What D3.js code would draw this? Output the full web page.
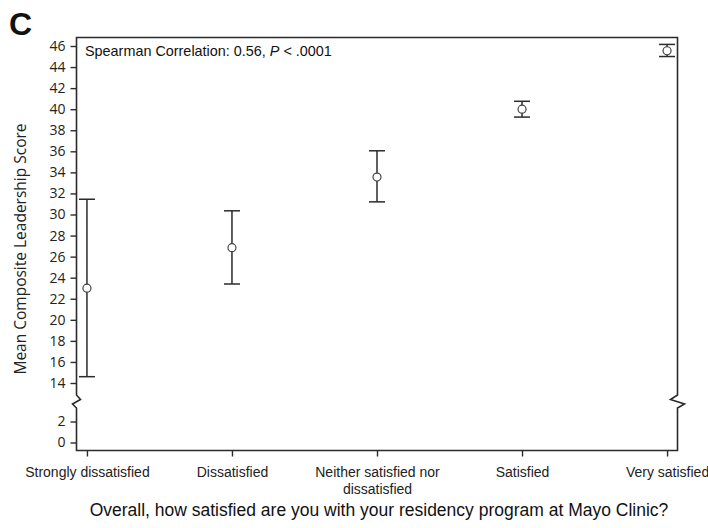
<!DOCTYPE html>
<html>

<head>
    <meta charset="UTF-8">
    <title>Leadership score by residency satisfaction</title>
    <script src="https://d3js.org/d3.v7.min.js"></script>
    <style>
        body { margin: 0; background: #fff; }
    </style>
</head>

<body>
    <div class="canvas"></div>

    <script>
        // data
        const categories = ["Strongly dissatisfied", "Dissatisfied", "Neither satisfied nor dissatisfied", "Satisfied", "Very satisfied"];
        const means = [23.0, 26.85, 33.55, 40.0, 45.55];
        const lowerCI = [14.6, 23.4, 31.2, 39.25, 45.0];
        const upperCI = [31.45, 30.35, 36.05, 40.75, 46.15];
        const upperTicks = [14, 16, 18, 20, 22, 24, 26, 28, 30, 32, 34, 36, 38, 40, 42, 44, 46];
        const lowerTicks = [0, 2];

        const data = categories.map((c, i) => ({ name: c, mean: means[i], lo: lowerCI[i], hi: upperCI[i] }));

        // dimensions
        const width = 708;
        const height = 528;
        const plotLeft = 76.5, plotRight = 677.5, plotTop = 37.5, plotBottom = 450.5;
        const ink = "#2b2b2b";

        const svg = d3.select(".canvas")
            .append("svg")
            .attr("width", width)
            .attr("height", height);

        svg.append("rect").attr("width", width).attr("height", height).attr("fill", "#fff");

        // scales: broken y axis, two segments with the same unit size
        const x = d3.scalePoint()
            .domain(categories)
            .range([plotLeft, plotRight])
            .padding(0.072);

        const yUp = d3.scaleLinear()
            .domain([14, 46])
            .range([383, 46]);

        const yLow = d3.scaleLinear()
            .domain([0, 2])
            .range([442.5, 421.5]);

        // frame: top, right, bottom, left with zigzag breaks
        const zig = (x0, amp) => `L${x0},395 L${x0 - amp},399.5 L${x0 + amp},404 L${x0},408`;
        svg.append("path")
            .attr("d", `M${plotLeft},${plotTop} L${plotRight},${plotTop} ${zig(plotRight, 7)} L${plotRight},${plotBottom} L${plotLeft},${plotBottom} L${plotLeft},408 L${plotLeft - 4},404 L${plotLeft + 4},399.5 L${plotLeft},395 Z`)
            .attr("fill", "none")
            .attr("stroke", ink)
            .attr("stroke-width", 1.6);

        // y axes (upper and lower pieces)
        const styleAxis = g => {
            g.select(".domain").remove();
            g.selectAll(".tick line").attr("stroke", ink).attr("stroke-width", 1.4);
            g.selectAll(".tick text")
                .attr("fill", "#222")
                .style("font-family", "'Open Sans', 'DejaVu Sans', sans-serif")
                .style("font-size", "14px");
        };

        svg.append("g")
            .attr("transform", `translate(${plotLeft}, 0)`)
            .call(d3.axisLeft(yUp).tickValues(upperTicks).tickFormat(d3.format("d")).tickSize(6).tickPadding(5))
            .call(styleAxis);

        svg.append("g")
            .attr("transform", `translate(${plotLeft}, 0)`)
            .call(d3.axisLeft(yLow).tickValues(lowerTicks).tickFormat(d3.format("d")).tickSize(6).tickPadding(5))
            .call(styleAxis);

        // x axis
        const xAxisGroup = svg.append("g")
            .attr("transform", `translate(0, ${plotBottom})`)
            .call(d3.axisBottom(x).tickSize(6).tickPadding(11));
        xAxisGroup.select(".domain").remove();
        xAxisGroup.selectAll(".tick line").attr("stroke", ink).attr("stroke-width", 1.4);
        xAxisGroup.selectAll(".tick text")
            .attr("fill", "#222")
            .style("font-family", "'Liberation Sans', Arial, sans-serif")
            .style("font-size", "14px")
            .each(function (d) {
                // wrap long labels into two lines
                if (d.length <= 22) return;
                const words = d.split(" ");
                const el = d3.select(this);
                el.text(null);
                el.append("tspan").attr("x", 0).attr("dy", "0.71em").text(words.slice(0, 3).join(" "));
                el.append("tspan").attr("x", 0).attr("dy", "1.2em").text(words.slice(3).join(" "));
                el.attr("dy", null);
            });

        // error bars
        const capW = 8;
        const bars = svg.append("g").attr("stroke", ink).attr("stroke-width", 1.5).attr("fill", "none");

        bars.selectAll("line.whisker")
            .data(data)
            .join("line")
            .attr("class", "whisker")
            .attr("x1", d => x(d.name))
            .attr("x2", d => x(d.name))
            .attr("y1", d => yUp(d.lo))
            .attr("y2", d => yUp(d.hi));

        bars.selectAll("line.capHi")
            .data(data)
            .join("line")
            .attr("class", "capHi")
            .attr("x1", d => x(d.name) - capW)
            .attr("x2", d => x(d.name) + capW)
            .attr("y1", d => yUp(d.hi))
            .attr("y2", d => yUp(d.hi));

        bars.selectAll("line.capLo")
            .data(data)
            .join("line")
            .attr("class", "capLo")
            .attr("x1", d => x(d.name) - capW)
            .attr("x2", d => x(d.name) + capW)
            .attr("y1", d => yUp(d.lo))
            .attr("y2", d => yUp(d.lo));

        // mean markers
        svg.append("g")
            .selectAll("circle")
            .data(data)
            .join("circle")
            .attr("cx", d => x(d.name))
            .attr("cy", d => yUp(d.mean))
            .attr("r", 4)
            .attr("fill", "#fff")
            .attr("stroke", "#444")
            .attr("stroke-width", 1.2);

        // texts
        svg.append("text")
            .attr("x", 9)
            .attr("y", 35)
            .style("font-family", "'Liberation Sans', Arial, sans-serif")
            .style("font-size", "32px")
            .style("font-weight", "bold")
            .attr("fill", "#111")
            .text("C");

        const note = svg.append("text")
            .attr("x", 85)
            .attr("y", 56)
            .attr("fill", "#111")
            .style("font-family", "'Liberation Sans', Arial, sans-serif")
            .style("font-size", "14.4px");
        note.append("tspan").text("Spearman Correlation: 0.56, ");
        note.append("tspan").style("font-style", "italic").text("P");
        note.append("tspan").text(" < .0001");

        svg.append("text")
            .attr("transform", `translate(26, 249) rotate(-90)`)
            .attr("text-anchor", "middle")
            .attr("fill", "#222")
            .style("font-family", "'Open Sans', 'DejaVu Sans', sans-serif")
            .style("font-size", "15.5px")
            .text("Mean Composite Leadership Score");

        svg.append("text")
            .attr("x", 379)
            .attr("y", 516)
            .attr("text-anchor", "middle")
            .attr("fill", "#111")
            .style("font-family", "'Liberation Sans', Arial, sans-serif")
            .style("font-size", "17.5px")
            .text("Overall, how satisfied are you with your residency program at Mayo Clinic?");
    </script>
</body>

</html>
